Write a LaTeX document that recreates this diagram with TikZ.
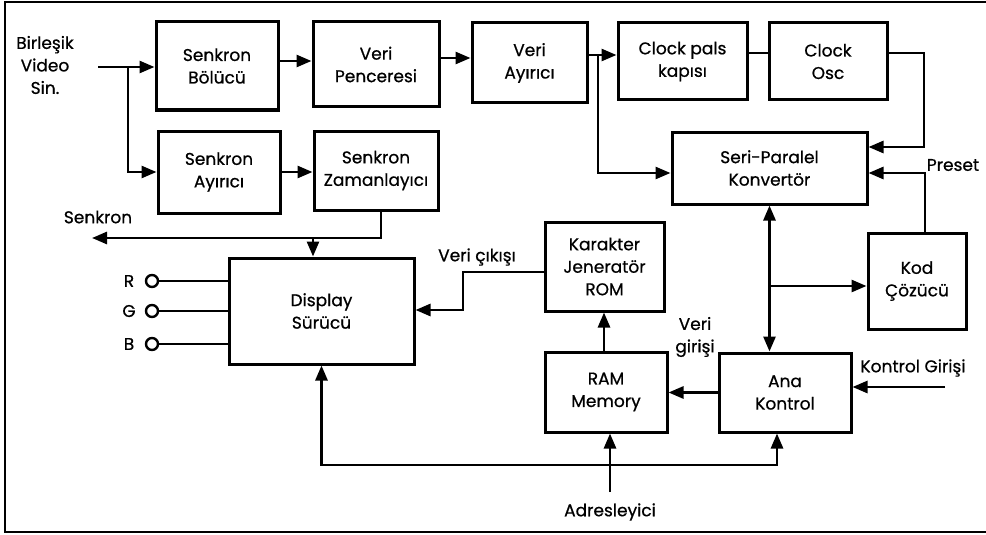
\documentclass[tikz,border=0pt]{standalone}
\usepackage{fontspec}
\setmainfont{Poppins}[FakeBold=0.7]
\usetikzlibrary{arrows.meta}
\begin{document}
\begin{tikzpicture}[x=1pt,y=-1pt,
  blk/.style={draw, line width=3pt, align=center, inner sep=0pt,
    font=\fontsize{17}{22.5}\selectfont},
  lbl/.style={align=center, inner sep=0pt, font=\fontsize{17}{22.5}\selectfont},
  wire/.style={line width=2.7pt},
  arr/.style={wire, -{Triangle[length=15pt,width=12pt]}},
  arrboth/.style={wire, {Triangle[length=15pt,width=12pt]}-{Triangle[length=15pt,width=12pt]}},
  term/.style={draw, circle, line width=2.4pt, minimum size=12pt, inner sep=0pt},
  frame/.style={line width=2.6pt}]
\useasboundingbox (0,0) rectangle (986,535);
\draw[frame] (988,2) -- (5,2) -- (5,532) -- (988,532);

% blocks
\node[blk, minimum width=122pt, minimum height=88pt] (sb)  at (217,66)    {Senkron\\Bölücü};
\node[blk, minimum width=122pt, minimum height=82pt] (sa)  at (219,172)   {Senkron\\Ayırıcı};
\node[blk, minimum width=126pt, minimum height=85pt] (vp)  at (376,64.5)  {Veri\\Penceresi};
\node[blk, minimum width=124pt, minimum height=79pt] (sz)  at (376,170.5) {Senkron\\Zamanlayıcı};
\node[blk, minimum width=115pt, minimum height=80pt] (va)  at (529.5,63)  {Veri\\Ayırıcı};
\node[blk, minimum width=129pt, minimum height=77pt] (cp)  at (682.5,61.5){Clock pals\\kapısı};
\node[blk, minimum width=118pt, minimum height=77pt] (co)  at (828,61.5)  {Clock\\Osc};
\node[blk, minimum width=195pt, minimum height=72pt] (spk) at (769.5,168) {Seri-Paralel\\Konvertör};
\node[blk, minimum width=98pt,  minimum height=96pt] (kc)  at (917,281)   {Kod\\Çözücü};
\node[blk, minimum width=119pt, minimum height=89pt] (rom) at (604.5,266.5){Karakter\\Jeneratör\\ROM};
\node[blk, minimum width=122pt, minimum height=80pt] (ram) at (606,392)   {RAM\\Memory};
\node[blk, minimum width=132pt, minimum height=79pt] (ak)  at (785,392.5) {Ana\\Kontrol};
\node[blk, minimum width=185pt, minimum height=106pt] (ds) at (321.5,311) {Display\\Sürücü};

% free ends and junctions
\coordinate (vin)  at (98,67);
\coordinate (j1)   at (128,67);
\coordinate (j2)   at (598,55);
\coordinate (sout) at (92,238);
\coordinate (j3)   at (313,238);
\coordinate (j4)   at (769.5,286);
\coordinate (kin)  at (945,387);
\coordinate (adr)  at (610,492);

% labels
\node[lbl] (tin) at (45,65) {Birleşik\\Video\\Sin.};
\node[lbl] (tsk) at (98,217) {Senkron};
\node[lbl] (tvc) at (477,257) {Veri çıkışı};
\node[lbl] (tvg) at (695,337) {Veri\\girişi};
\node[lbl] (tps) at (953,165) {Preset};
\node[lbl] (tkg) at (913,368) {Kontrol Girişi};
\node[lbl] (tad) at (610,512) {Adresleyici};

% RGB outputs
\node[term] (r) at (152,281) {};
\node[term] (g) at (152,311) {};
\node[term] (b) at (152,344) {};
\node[lbl] at (129,281) {R};
\node[lbl] at (129,311) {G};
\node[lbl] at (129,344) {B};
\draw[wire] (r) -- (r -| ds.west);
\draw[wire] (g) -- (g -| ds.west);
\draw[wire] (b) -- (b -| ds.west);

% video input path
\draw[arr] (vin) -- (vin -| sb.west);
\draw[arr] (j1) |- (sa.west);
\draw[arr] (sb.east |- 0,61) -- (vp.west |- 0,61);
\draw[arr] (vp.east |- 0,58) -- (va.west |- 0,58);
\draw[arr] (va.east |- j2) -- (cp.west |- j2);
\draw[arr] (j2) |- (spk.west |- 0,173);
\draw[wire] (cp.east |- 0,53) -- (co.west |- 0,53);
\draw[arr] (co.east |- 0,53) -| (924,147) -- (spk.east |- 0,147);
\draw[arr] (kc.north -| 925,0) |- (spk.east |- 0,173);

% sync path
\draw[arr] (sa.east) -- (sz.west |- sa.east);
\draw[arr] (sz.south -| 381,0) |- (sout);
\draw[arr] (j3) -- (ds.north -| j3);

% character path
\draw[arr] (rom.west |- 0,272) -| (463,310) -- (ds.east |- 0,310);
\draw[arr] (ram.north -| 604,0) -- (rom.south -| 604,0);
\draw[arr] (ak.west) -- (ram.east |- ak.west);
\draw[arrboth] (spk.south) -- (spk.south |- ak.north);
\draw[arr] (j4) -- (kc.west |- j4);
\draw[arr] (kin) -- (ak.east |- kin);
\draw[arrboth] (ds.south) |- (777,465) -- (ak.south -| 777,0);
\draw[arr] (adr) -- (ram.south -| adr);
\end{tikzpicture}
\end{document}
